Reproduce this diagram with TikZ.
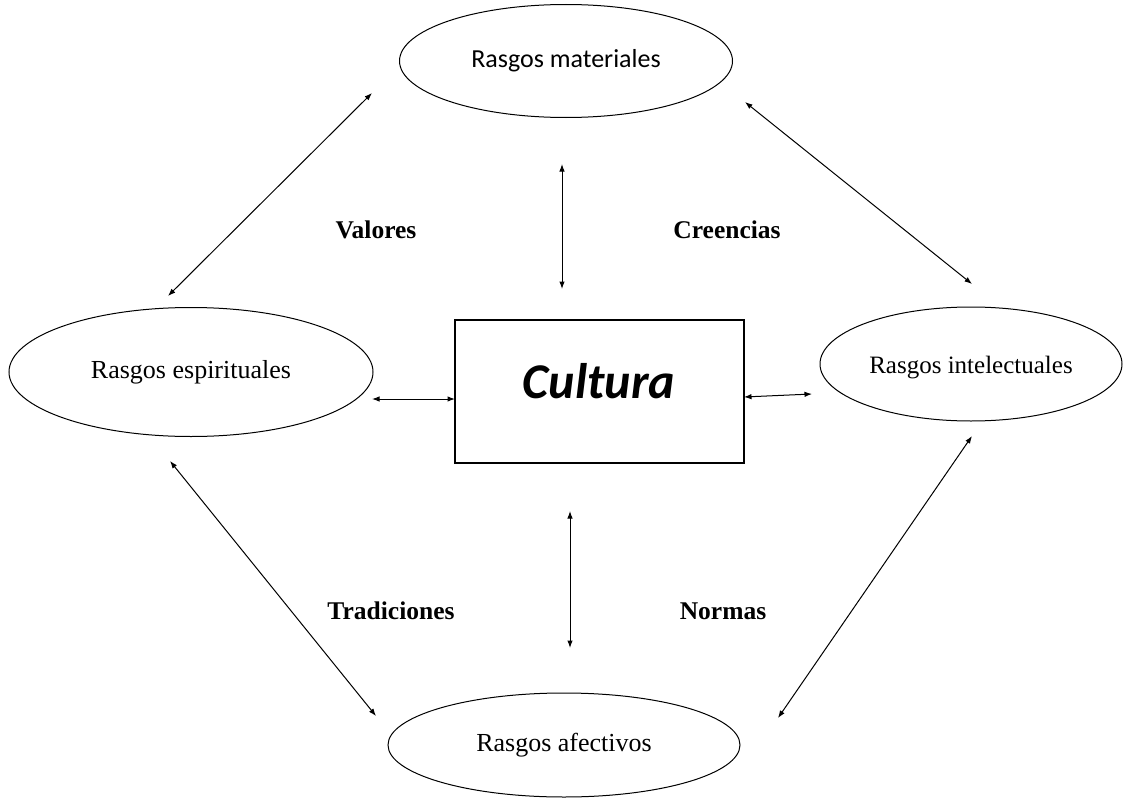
\documentclass[tikz,border=0pt]{standalone}
\usepackage{fontspec}
\setmainfont{Liberation Serif}
\newfontfamily\calfont{Carlito}
\usetikzlibrary{shapes.geometric,arrows.meta}

\begin{document}
\begin{tikzpicture}[x=1pt,y=-1pt,
  trait/.style={ellipse,draw,line width=1pt,inner sep=0pt,font=\fontsize{26}{30}\selectfont},
  core/.style={rectangle,draw,line width=1.1pt,inner sep=0pt},
  tag/.style={anchor=base,font=\fontsize{25.5}{30}\selectfont\bfseries},
  link/.style={line width=1pt,{Latex[length=7.5pt,width=5.5pt]}-{Latex[length=7.5pt,width=5.5pt]}}]
  \useasboundingbox (0,0) rectangle (1125,800);

  % the four groups of traits
  \node[trait,minimum width=333,minimum height=113] (mat) at (566,61) {\calfont Rasgos materiales};
  \node[trait,minimum width=364,minimum height=129] (esp) at (191,372) {Rasgos espirituales};
  \node[trait,minimum width=302,minimum height=114,font=\fontsize{25}{28}\selectfont,
        text height=24pt,text depth=5.5pt] (int) at (971,364) {Rasgos intelectuales};
  \node[trait,minimum width=352,minimum height=104] (afe) at (564,745) {Rasgos afectivos};

  % central box
  \node[core,minimum width=289,minimum height=143] (cul) at (599.5,391.5) {};
  \node[anchor=base,font=\calfont\fontsize{50}{56}\selectfont\bfseries\itshape] (cultxt) at (599,398) {Cultura};

  % labels between the connectors
  \node[tag] (val) at (376,238) {Valores};
  \node[tag] (cre) at (727,238) {Creencias};
  \node[tag] (tra) at (391,619) {Tradiciones};
  \node[tag] (nor) at (723,619) {Normas};

  % connector end points
  \coordinate (a1) at (168,296);  \coordinate (a2) at (372,93);
  \coordinate (b1) at (745,102);  \coordinate (b2) at (972,284);
  \coordinate (c1) at (562,164);  \coordinate (c2) at (562,289);
  \coordinate (d1) at (372,399);  \coordinate (d2) at (455,399);
  \coordinate (e1) at (744,397);  \coordinate (e2) at (812,394);
  \coordinate (f1) at (570,511);  \coordinate (f2) at (570,648);
  \coordinate (g1) at (170,461);  \coordinate (g2) at (376,716);
  \coordinate (h1) at (972,436);  \coordinate (h2) at (778,718);

  \draw[link] (a1) -- (a2);
  \draw[link] (b1) -- (b2);
  \draw[link] (c1) -- (c2);
  \draw[link] (d1) -- (d2);
  \draw[link] (e1) -- (e2);
  \draw[link] (f1) -- (f2);
  \draw[link] (g1) -- (g2);
  \draw[link] (h1) -- (h2);
\end{tikzpicture}
\end{document}
